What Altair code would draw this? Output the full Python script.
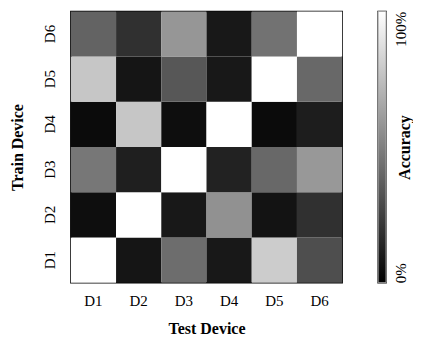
import altair as alt
import pandas as pd

devices = ["D1", "D2", "D3", "D4", "D5", "D6"]
# accuracy (%) rows = train device D1..D6, columns = test device D1..D6
acc_d1 = [100, 7, 46, 8, 82, 33]
acc_d2 = [4, 100, 8, 60, 6, 20]
acc_d3 = [50, 12, 100, 13, 44, 63]
acc_d4 = [3, 80, 4, 100, 3, 11]
acc_d5 = [80, 7, 37, 8, 100, 44]
acc_d6 = [42, 20, 62, 8, 48, 100]
rows = [acc_d1, acc_d2, acc_d3, acc_d4, acc_d5, acc_d6]
scale_ends = [0, 100]

records = []
for train, vals in zip(devices, rows):
    for test, v in zip(devices, vals):
        records.append({"train": train, "test": test, "acc": v})
df = pd.DataFrame(records)

FONT = "Liberation Serif"

heat = alt.Chart(df).mark_rect().encode(
    x=alt.X("test:N", sort=devices,
            axis=alt.Axis(title="Test Device", labelAngle=0, ticks=False, domain=False,
                          labelPadding=11, titlePadding=12, labelFontSize=15,
                          titleFontSize=16, titleFontWeight="bold",
                          labelFont=FONT, titleFont=FONT, labelColor="black", titleColor="black")),
    y=alt.Y("train:N", sort=devices[::-1],
            axis=alt.Axis(title="Train Device", labelAngle=270, ticks=False, domain=False,
                          labelPadding=13, titlePadding=17, labelFontSize=15,
                          titleFontSize=16, titleFontWeight="bold",
                          labelFont=FONT, titleFont=FONT, labelColor="black", titleColor="black")),
    color=alt.Color("acc:Q", scale=alt.Scale(domain=scale_ends, range=["black", "white"]),
                    legend=None),
).properties(width=272, height=272)

cb_df = pd.DataFrame({"lo": [scale_ends[0]], "hi": [scale_ends[1]]})
grad = alt.Gradient(gradient="linear",
                    stops=[alt.GradientStop(color="black", offset=0),
                           alt.GradientStop(color="white", offset=1)],
                    x1=0, x2=0, y1=1, y2=0)
colorbar = alt.Chart(cb_df).mark_rect(color=grad, stroke="#aaaaaa", strokeWidth=1).encode(
    y=alt.Y("lo:Q", scale=alt.Scale(domain=scale_ends, nice=False),
            axis=alt.Axis(orient="right", title="Accuracy", values=scale_ends,
                          labelExpr="datum.value + '%'", ticks=False, domain=False, grid=False,
                          labelAngle=270, labelBaseline="top",
                          labelAlign=alt.ConditionalAxisLabelAlign(
                              condition={"test": "datum.value > 50", "value": "right"},
                              value="left"),
                          labelPadding=7, labelFontSize=15, labelFont=FONT, labelColor="black",
                          titleAngle=270, titleFontSize=16, titleFont=FONT, titleFontWeight="bold",
                          titleColor="black", titlePadding=4)),
    y2="hi:Q",
).properties(width=8, height=272)

chart = alt.hconcat(heat, colorbar, spacing=33).properties(
    padding={"left": 1, "top": 1, "right": 0, "bottom": 0},
).configure_view(stroke="black", strokeWidth=1.5)

chart.save("out.html", embed_options={"renderer": "svg", "actions": False})
